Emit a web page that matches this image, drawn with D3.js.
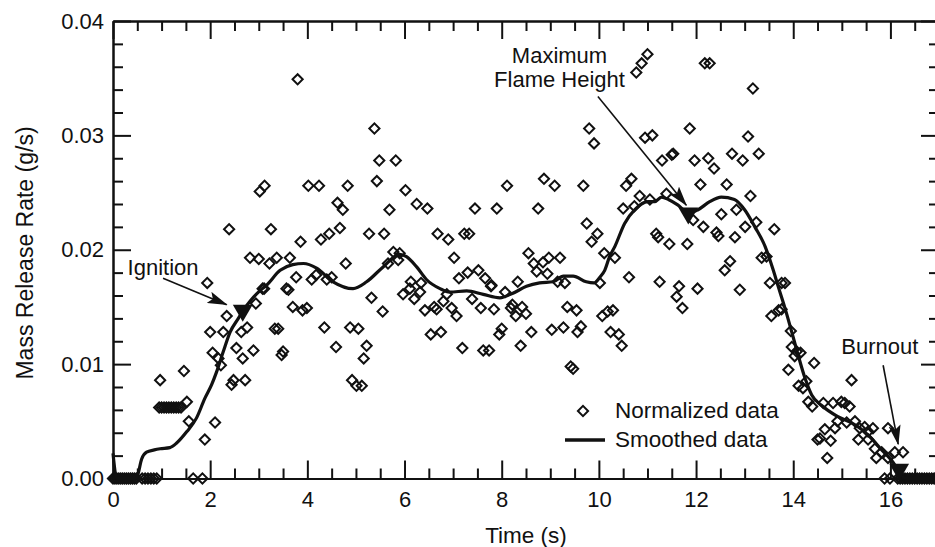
<!DOCTYPE html>
<html lang="en">
<head>
<meta charset="UTF-8">
<title>Mass Release Rate</title>
<script src="https://d3js.org/d3.v7.min.js"></script>
<style>
  body { margin: 0; background: #fff; }
  text { font-family: "Liberation Sans", Arial, sans-serif; fill: #111; }
</style>
</head>
<body>
<div id="chart"></div>
<script>

// tick values and labels
var xMajor = [0, 2, 4, 6, 8, 10, 12, 14, 16];
var xMinor = [0.5, 1, 1.5, 2.5, 3, 3.5, 4.5, 5, 5.5, 6.5, 7, 7.5, 8.5, 9, 9.5, 10.5, 11, 11.5, 12.5, 13, 13.5, 14.5, 15, 15.5, 16.5];
var yMajor = [0, 0.01, 0.02, 0.03, 0.04];
var yMinor = [0.002, 0.004, 0.006, 0.008, 0.012, 0.014, 0.016, 0.018, 0.022, 0.024, 0.026, 0.028, 0.032, 0.034, 0.036, 0.038];

// normalized data [time s, rate g/s]
var normalized = [
  [0,0],[0.04,0],[0.08,0],[0.12,0],[0.16,0],[0.2,0],[0.24,0],[0.28,0],[0.32,0],[0.36,0],[0.4,0],[0.44,0],[0.48,0],
  [0.6,0],[0.66,0],[0.72,0],[0.78,0],[0.84,0],[0.9,0],[1.65,0],[1.84,0],
  [0.95,0.0062],[1.0,0.0062],[1.05,0.0062],[1.1,0.0062],[1.15,0.0062],[1.2,0.0062],[1.25,0.0062],[1.3,0.0062],[1.35,0.0062],[1.4,0.0062],
  [0.97,0.0086],[1.46,0.0094],[1.52,0.0067],[1.56,0.0050],[1.89,0.0034],[2.10,0.0049],[2.00,0.0128],[2.27,0.0128],
  [2.34,0.0142],[2.05,0.0110],[2.17,0.0105],[2.22,0.0099],[2.48,0.0086],[2.44,0.0082],[2.72,0.0086],[2.54,0.0114],
  [2.67,0.0105],[2.89,0.0112],[2.64,0.0128],[2.76,0.0132],[2.94,0.0153],[3.11,0.0166],[3.33,0.0131],[3.40,0.0131],
  [3.50,0.0111],[3.47,0.0108],[3.61,0.0165],[3.70,0.0150],[3.90,0.0147],[3.99,0.0149],[4.35,0.0132],[4.59,0.0115],
  [4.88,0.0132],[5.05,0.0131],[5.22,0.0116],[5.16,0.0105],[4.92,0.0086],[5.01,0.0081],[5.12,0.0081],[5.32,0.0158],
  [5.55,0.0146],[5.38,0.0306],[5.48,0.0278],[5.43,0.0260],[5.69,0.0235],[2.39,0.0218],[3.25,0.0218],[3.02,0.0251],
  [3.12,0.0256],[4.02,0.0256],[4.24,0.0256],[4.83,0.0256],[4.62,0.0241],[4.73,0.0235],[4.67,0.0219],[4.45,0.0214],
  [4.28,0.0209],[3.86,0.0207],[5.27,0.0214],[5.58,0.0214],[2.82,0.0193],[3.00,0.0192],[3.22,0.0188],[3.37,0.0193],
  [3.64,0.0193],[4.79,0.0188],[1.94,0.0171],[3.77,0.0176],[4.09,0.0174],[4.18,0.0178],[4.40,0.0174],[4.50,0.0176],
  [3.08,0.0166],[3.57,0.0166],[5.66,0.0188],[3.80,0.0349],
  [5.82,0.0278],[6.02,0.0252],[6.25,0.0240],[6.47,0.0236],[6.68,0.0214],[6.90,0.0209],[7.23,0.0214],[7.33,0.0214],
  [7.45,0.0236],[7.90,0.0236],[8.11,0.0256],[8.75,0.0236],[8.87,0.0262],[9.09,0.0256],[9.68,0.0256],[9.80,0.0306],
  [9.90,0.0293],[9.75,0.0223],[9.97,0.0214],[9.85,0.0207],[10.50,0.0236],[10.73,0.0238],[10.84,0.0247],[11.05,0.0244],
  [10.56,0.0256],[10.67,0.0262],[10.95,0.0298],[11.10,0.0300],[11.30,0.0278],[11.18,0.0214],[11.22,0.0211],[10.62,0.0176],
  [11.25,0.0172],[5.77,0.0198],[5.90,0.0197],[5.87,0.0191],[6.13,0.0172],[6.34,0.0171],[7.02,0.0193],[7.12,0.0175],
  [7.30,0.0180],[7.52,0.0182],[7.66,0.0175],[7.79,0.0169],[8.33,0.0172],[8.55,0.0197],[8.66,0.0188],[8.72,0.0181],
  [8.85,0.0189],[8.97,0.0193],[8.94,0.0179],[9.20,0.0193],[9.15,0.0172],[9.30,0.0171],[10.11,0.0197],[10.33,0.0193],
  [10.02,0.0171],
  [5.97,0.0161],[6.20,0.0157],[6.11,0.0166],[6.32,0.0163],[6.42,0.0147],[6.61,0.0150],[6.66,0.0148],[6.80,0.0155],
  [6.87,0.0161],[6.97,0.0149],[7.07,0.0142],[6.54,0.0126],[6.75,0.0128],[7.19,0.0114],[7.39,0.0157],[7.57,0.0149],
  [7.84,0.0148],[7.62,0.0112],[7.74,0.0112],[7.95,0.0126],[8.00,0.0131],[7.78,0.0168],[8.07,0.0163],[8.19,0.0149],
  [8.29,0.0142],[8.42,0.0150],[8.50,0.0144],[8.22,0.0152],[8.39,0.0116],[8.61,0.0128],[9.03,0.0130],[9.27,0.0132],
  [9.56,0.0128],[9.63,0.0133],[9.35,0.0150],[9.54,0.0147],[9.42,0.0098],[9.47,0.0096],[10.07,0.0142],[10.18,0.0146],
  [10.29,0.0147],[10.24,0.0128],[10.41,0.0126],[10.47,0.0116],
  [12.18,0.0363],[12.28,0.0363],[13.17,0.0341],[11.87,0.0306],[13.07,0.0299],[11.53,0.0284],[11.50,0.0283],
  [11.97,0.0278],[12.25,0.0280],[12.37,0.0271],[12.74,0.0284],[12.96,0.0278],[13.29,0.0284],[12.09,0.0257],[12.63,0.0257],
  [13.12,0.0247],[11.39,0.0249],[12.52,0.0231],[12.83,0.0235],[11.94,0.0226],[12.15,0.0220],[13.01,0.0220],[13.24,0.0224],
  [13.61,0.0218],[11.45,0.0205],[11.82,0.0205],[12.42,0.0215],[12.46,0.0212],[12.80,0.0211],[13.35,0.0193],[13.45,0.0194],
  [12.70,0.0190],[12.59,0.0182],[11.65,0.0168],[12.03,0.0166],[13.52,0.0171],[13.76,0.0171],[13.83,0.0171],[12.90,0.0165],
  [10.77,0.0355],[10.88,0.0363],[11.00,0.0371],[11.60,0.0159],[11.72,0.0149],
  [13.55,0.0142],[13.70,0.0147],[13.76,0.0148],[13.95,0.0129],[13.97,0.0115],[14.07,0.0111],[14.15,0.0110],[14.03,0.0107],
  [14.43,0.0101],[13.90,0.0095],[14.11,0.0081],[14.27,0.0085],[14.20,0.0079],[15.20,0.0086],[14.31,0.0067],[14.39,0.0063],
  [14.62,0.0066],[14.82,0.0066],[14.99,0.0067],[15.06,0.0066],[15.16,0.0063],[14.91,0.0050],[15.10,0.0049],[15.27,0.0050],
  [15.37,0.0044],[15.47,0.0045],[15.64,0.0044],[15.54,0.0041],[14.86,0.0044],[14.65,0.0043],[15.34,0.0034],[15.54,0.0034],
  [15.68,0.0026],[14.50,0.0034],[14.55,0.0035],[14.77,0.0033],[14.70,0.0018],[15.82,0.0023],[15.95,0.0044],[16.09,0.0023],
  [16.26,0.0023],[15.95,0.0018],[15.71,0.0018],[15.88,0],[15.99,0],
  [16.15,0],[16.2,0],[16.25,0],[16.3,0],[16.35,0],[16.4,0],[16.45,0],[16.5,0],[16.55,0],[16.6,0],[16.65,0],[16.7,0],
  [16.75,0],[16.8,0],[16.85,0],[16.9,0],[16.95,0],[17.0,0]
];

// smoothed data [time s, rate g/s]
var smoothed = [
  [0,0.0022],[0.08,0],[0.45,0],[0.5,0.0002],[0.59,0.0017],[0.69,0.0023],[0.85,0.0025],[0.97,0.0026],[1.17,0.0027],
  [1.31,0.0031],[1.52,0.0041],[1.72,0.0053],[1.89,0.0070],[2.03,0.0082],[2.13,0.0093],[2.27,0.0111],[2.41,0.0128],
  [2.58,0.0140],[2.68,0.0147],[2.82,0.0155],[3.02,0.0164],[3.16,0.0169],[3.44,0.0182],[3.70,0.0187],[3.92,0.0188],
  [4.19,0.0184],[4.53,0.0172],[4.94,0.0166],[5.22,0.0172],[5.56,0.0185],[5.90,0.0196],[6.04,0.0194],[6.25,0.0185],
  [6.45,0.0174],[6.73,0.0166],[6.93,0.0163],[7.28,0.0164],[7.62,0.0161],[7.96,0.0158],[8.23,0.0162],[8.51,0.0168],
  [8.78,0.0171],[9.06,0.0172],[9.27,0.0177],[9.47,0.0177],[9.74,0.0172],[9.90,0.0171],[10.02,0.0176],[10.12,0.0182],
  [10.22,0.0194],[10.33,0.0203],[10.53,0.0223],[10.74,0.0235],[11.01,0.0242],[11.15,0.0242],[11.29,0.0246],[11.43,0.0244],
  [11.63,0.0239],[11.84,0.0232],[12.04,0.0235],[12.28,0.0242],[12.52,0.0246],[12.79,0.0244],[13.0,0.0235],[13.21,0.0220],
  [13.42,0.0203],[13.59,0.0182],[13.69,0.0168],[13.83,0.0149],[13.97,0.0128],[14.10,0.0108],[14.24,0.0088],[14.38,0.0073],
  [14.58,0.0064],[14.92,0.0054],[15.27,0.0047],[15.54,0.0038],[15.82,0.0025],[16.09,0.0012],[16.23,0.0002],[16.35,0],[17,0]
];

// event markers and their labels
var events = [
  {name: "Ignition", t: 2.67, v: 0.0147},
  {name: "Maximum Flame Height", t: 11.84, v: 0.0232},
  {name: "Burnout", t: 16.18, v: 0.0008}
];
var eventLabels = [
  {lines: ["Ignition"], t: 0.30, v: 0.0178, anchor: "start", from: [1.03, 0.0175], to: [2.34, 0.0152]},
  {lines: ["Maximum", "Flame Height"], t: 9.19, v: 0.03635, anchor: "middle", from: [9.98, 0.0334], to: [11.80, 0.0239]},
  {lines: ["Burnout"], t: 14.99, v: 0.0109, anchor: "start", from: [15.85, 0.0099], to: [16.16, 0.0030]}
];

var W = 935, H = 547;
var svg = d3.select("#chart").append("svg")
  .attr("width", W).attr("height", H);

var x = d3.scaleLinear().domain([0, 17]).range([113, 939]);
var y = d3.scaleLinear().domain([0, 0.04]).range([478.5, 21]);

// arrow head
svg.append("defs").append("marker")
  .attr("id", "arrow")
  .attr("markerUnits", "userSpaceOnUse")
  .attr("viewBox", "0 0 20 12")
  .attr("refX", 19).attr("refY", 6)
  .attr("markerWidth", 20).attr("markerHeight", 12)
  .attr("orient", "auto")
  .append("path")
    .attr("d", "M0,0 L20,6 L0,12 L4,6 Z")
    .attr("fill", "#111");

// axes: major and minor ticks point inward
function styleAxis(g) {
  g.selectAll("path.domain").attr("stroke", "#111").attr("stroke-width", 2);
  g.selectAll(".tick line").attr("stroke", "#111").attr("stroke-width", 2);
  g.selectAll(".tick text").attr("font-size", 22).attr("fill", "#111")
    .attr("font-family", '"Liberation Sans", Arial, sans-serif');
}

svg.append("g").attr("transform", "translate(0," + y(0) + ")")
  .call(d3.axisBottom(x).tickValues(xMajor).tickSizeInner(-18).tickSizeOuter(0).tickPadding(13).tickFormat(d3.format("d")))
  .call(styleAxis);
svg.append("g").attr("transform", "translate(0," + y(0) + ")")
  .call(d3.axisBottom(x).tickValues(xMinor).tickSizeInner(-10).tickSizeOuter(0).tickFormat(""))
  .call(styleAxis);
svg.append("g").attr("transform", "translate(0," + y(0.04) + ")")
  .call(d3.axisTop(x).tickValues(xMajor).tickSizeInner(-18).tickSizeOuter(0).tickFormat(""))
  .call(styleAxis);
svg.append("g").attr("transform", "translate(0," + y(0.04) + ")")
  .call(d3.axisTop(x).tickValues(xMinor).tickSizeInner(-10).tickSizeOuter(0).tickFormat(""))
  .call(styleAxis);

svg.append("g").attr("transform", "translate(" + x(0) + ",0)")
  .call(d3.axisLeft(y).tickValues(yMajor).tickSizeInner(-18).tickSizeOuter(0).tickPadding(9).tickFormat(d3.format(".2f")))
  .call(styleAxis);
svg.append("g").attr("transform", "translate(" + x(0) + ",0)")
  .call(d3.axisLeft(y).tickValues(yMinor).tickSizeInner(-10).tickSizeOuter(0).tickFormat(""))
  .call(styleAxis);
svg.append("g").attr("transform", "translate(" + x(17) + ",0)")
  .call(d3.axisRight(y).tickValues(yMajor).tickSizeInner(-18).tickSizeOuter(0).tickFormat(""))
  .call(styleAxis);
svg.append("g").attr("transform", "translate(" + x(17) + ",0)")
  .call(d3.axisRight(y).tickValues(yMinor).tickSizeInner(-10).tickSizeOuter(0).tickFormat(""))
  .call(styleAxis);

// axis titles
svg.append("text")
  .attr("x", 526).attr("y", 543)
  .attr("text-anchor", "middle").attr("font-size", 22.5)
  .text("Time (s)");
svg.append("text")
  .attr("transform", "translate(33,253) rotate(-90)")
  .attr("text-anchor", "middle").attr("font-size", 23)
  .text("Mass Release Rate (g/s)");

// scatter of normalized data
var diamond = d3.symbol().type(d3.symbolSquare).size(52);
svg.append("g").selectAll("path")
  .data(normalized)
  .enter().append("path")
    .attr("d", diamond)
    .attr("transform", function(d) { return "translate(" + x(d[0]) + "," + y(d[1]) + ") rotate(45)"; })
    .attr("fill", "none")
    .attr("stroke", "#111")
    .attr("stroke-width", 2);

// smoothed line
svg.append("path")
  .datum(smoothed)
  .attr("fill", "none")
  .attr("stroke", "#111")
  .attr("stroke-width", 3.2)
  .attr("stroke-linejoin", "round")
  .attr("d", d3.line()
    .curve(d3.curveMonotoneX)
    .x(function(d) { return x(d[0]); })
    .y(function(d) { return y(d[1]); }));

// event triangles
svg.append("g").selectAll("path")
  .data(events)
  .enter().append("path")
    .attr("d", d3.symbol().type(d3.symbolTriangle).size(170))
    .attr("transform", function(d) { return "translate(" + x(d.t) + "," + y(d.v) + ") rotate(180)"; })
    .attr("fill", "#111");

// annotations
eventLabels.forEach(function(a) {
  var t = svg.append("text")
    .attr("x", x(a.t)).attr("y", y(a.v))
    .attr("text-anchor", a.anchor)
    .attr("font-size", 22);
  a.lines.forEach(function(l, i) {
    t.append("tspan").attr("x", x(a.t)).attr("dy", i === 0 ? 0 : 24).text(l);
  });
  svg.append("line")
    .attr("x1", x(a.from[0])).attr("y1", y(a.from[1]))
    .attr("x2", x(a.to[0])).attr("y2", y(a.to[1]))
    .attr("stroke", "#111").attr("stroke-width", 1.6)
    .attr("marker-end", "url(#arrow)");
});

// legend
var legend = svg.append("g").attr("transform", "translate(583,411)");
legend.append("path")
  .attr("d", diamond)
  .attr("transform", "rotate(45)")
  .attr("fill", "none").attr("stroke", "#111").attr("stroke-width", 2);
legend.append("text").attr("x", 32).attr("y", 7).attr("font-size", 22.5).text("Normalized data");
legend.append("line")
  .attr("x1", -18).attr("x2", 22).attr("y1", 29).attr("y2", 29)
  .attr("stroke", "#111").attr("stroke-width", 3.5);
legend.append("text").attr("x", 32).attr("y", 36).attr("font-size", 22.5).text("Smoothed data");

</script>
</body>
</html>
